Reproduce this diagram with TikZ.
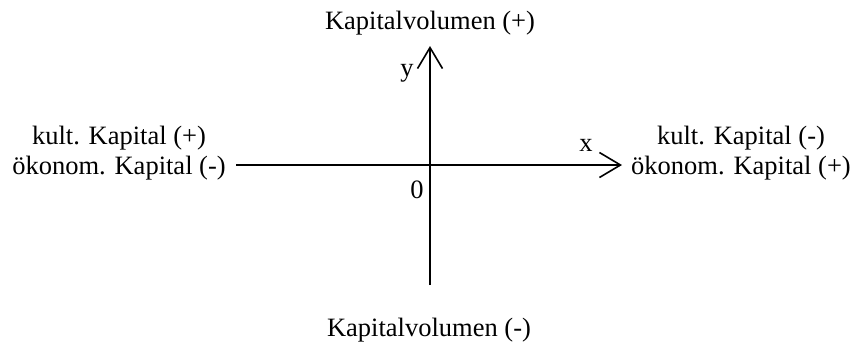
\documentclass[tikz,border=0pt]{standalone}
\usepackage{fontspec}
\setmainfont{Liberation Serif}
\usetikzlibrary{arrows.meta}
\begin{document}
\begin{tikzpicture}[x=1pt,y=-1pt,
  lbl/.style={font=\fontsize{26.5}{30}\selectfont, inner sep=0pt, align=center},
  axis/.style={line width=1.6pt, -{Straight Barb[length=21pt,width=25pt,line width=1.6pt]}}]
\useasboundingbox (0,0) rectangle (853,349);
\coordinate (o) at (430,165);
\coordinate (xl) at (236,165);
\coordinate (xr) at (622,165);
\coordinate (yb) at (430,285);
\coordinate (yt) at (430,46);
\draw[axis] (xl) -- (xr);
\draw[axis] (yb) -- (yt);
\node[lbl] (top) at (430,23) {Kapitalvolumen (+)};
\node[lbl] (bot) at (429,330) {Kapitalvolumen (-)};
\node[lbl] (left) at (119,153) {kult. Kapital (+)\\ökonom. Kapital (-)};
\node[lbl] (right) at (741,153) {kult. Kapital (-)\\ökonom. Kapital (+)};
\node[lbl] (ylab) at (407,73) {y};
\node[lbl] (xlab) at (586,145) {x};
\node[lbl] (zero) at (417,190) {0};
\end{tikzpicture}
\end{document}
